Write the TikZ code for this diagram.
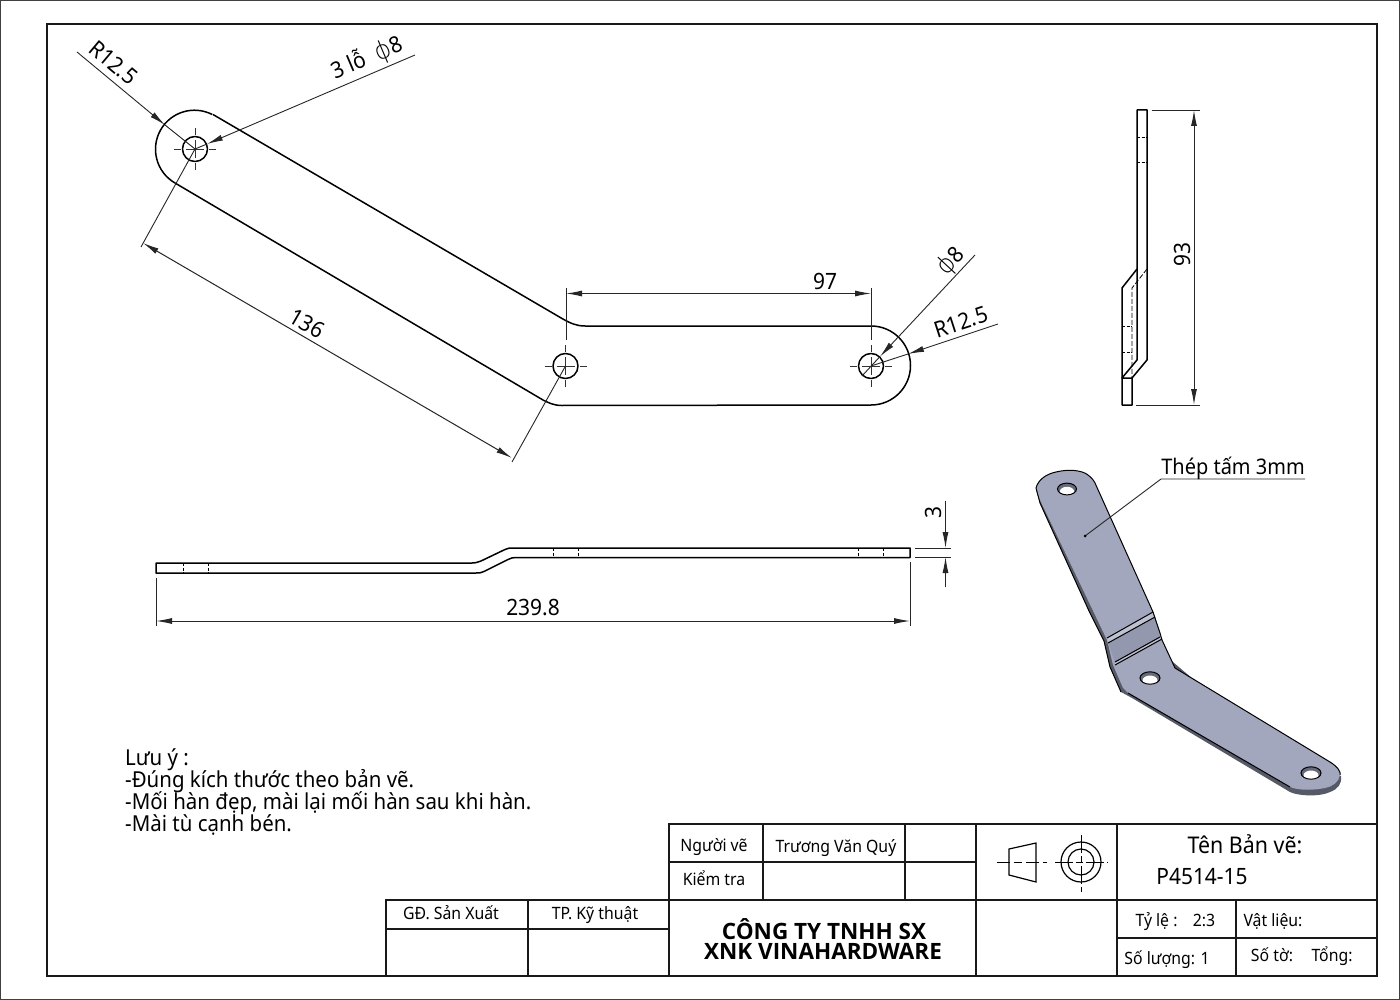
\documentclass[tikz,border=0pt]{standalone}
\usepackage{fontspec}
\setmainfont[FakeStretch=0.93]{Noto Sans}
\newfontfamily\boldfam{Open Sans}
\newfontfamily\phifam{DejaVu Sans ExtraLight}
\usetikzlibrary{arrows.meta}
\definecolor{face}{HTML}{A2A7BD}
\definecolor{band}{HTML}{9498AE}
\definecolor{side}{HTML}{565966}
\definecolor{holedark}{HTML}{666977}
\tikzset{
  thick outline/.style={line width=1.5pt,black,line join=round},
  thin line/.style={line width=0.9pt,black!85},
  frame line/.style={line width=2.4pt,black!90},
  cell line/.style={line width=1.7pt,black!90},
  arrow dim/.style={line width=0.9pt,black!85,-{Latex[length=16pt,width=6pt]}},
  both dim/.style={line width=1pt,black!85,{Latex[length=16pt,width=6pt]}-{Latex[length=16pt,width=6pt]}},
  hidden cut/.style={line width=0.7pt,black,dash pattern=on 3pt off 1.5pt},
  lbl/.style={inner sep=0pt,font=\fontsize{22.5}{26}\selectfont},
  cell/.style={inner sep=0pt,font=\fontsize{17}{20}\selectfont},
  note/.style={inner sep=0pt,anchor=base west,font=\fontsize{22}{26}\selectfont},
  firm/.style={inner sep=0pt,font=\fontsize{22.5}{24}\selectfont\boldfam\bfseries},
  iso hole/.style={line width=1pt,black}
}
\newcommand{\centermark}[1]{%
  \draw[line width=0.7pt,black!80] ([xshift=-9pt]#1) -- ([xshift=9pt]#1) ([yshift=-9pt]#1) -- ([yshift=9pt]#1)
    ([xshift=-21pt]#1) -- ([xshift=-14pt]#1) ([xshift=14pt]#1) -- ([xshift=21pt]#1)
    ([yshift=-21pt]#1) -- ([yshift=-14pt]#1) ([yshift=14pt]#1) -- ([yshift=21pt]#1);
  \draw[thick outline] (#1) circle[radius=12.5];}
\newcommand{\isohole}[3]{%
  \begin{scope}
    \clip (#1,#2) ellipse[x radius=#3,y radius=0.62*#3];
    \fill[holedark] (#1,#2) ellipse[x radius=#3,y radius=0.62*#3];
    \fill[white] (#1,#2+2.5) ellipse[x radius=0.75*#3,y radius=0.5*#3];
  \end{scope}
  \draw[iso hole] (#1,#2) ellipse[x radius=#3,y radius=0.62*#3];}
\newcommand{\phisym}{{\phifam\fontsize{25}{25}\selectfont ϕ}}
\begin{document}
\begin{tikzpicture}[x=1pt,y=-1pt]
\useasboundingbox (0,0) rectangle (1400,1000);
\fill[white] (0,0) rectangle (1400,1000);
\draw[line width=1.5pt,black!75] (0.5,0.5) rectangle (1399.5,999.5);
\draw[frame line] (47,24) rectangle (1377,976);

% --- named points
\coordinate (c1) at (195,149);
\coordinate (c2) at (565.5,366);
\coordinate (c3) at (871,366);

% --- plan view
\draw[thick outline] (213,114.5) -- (562,318.5) .. controls (570,323) and (576,326) .. (585,326)
  -- (871,326) arc[start angle=-90,end angle=90,radius=39.5]
  -- (562,405.5) .. controls (554,405.5) and (549,403) .. (543,400)
  -- (175,183) arc[start angle=120,end angle=297,radius=39];
\centermark{c1}\centermark{c2}\centermark{c3}

% R12.5 upper left
\coordinate (r1a) at (77,52); \coordinate (r1t) at (165,125);
\draw[arrow dim] (r1a) -- (r1t);
\draw[thin line] (r1t) -- (c1);
\node[lbl,rotate=-40] (r1l) at (113.5,62.5) {R12.5};
% 3 holes
\coordinate (h1a) at (415,55); \coordinate (h1t) at (207,144);
\draw[arrow dim] (h1a) -- (h1t);
\draw[thin line] (h1t) -- (c1);
\node[lbl,rotate=23.1] (h1l) at (367,58) {3 lỗ \ \phisym 8};
% 136
\coordinate (d1a) at (141,247); \coordinate (d1b) at (512,462);
\coordinate (d1c) at (143,243); \coordinate (d1d) at (512,458);
\draw[thin line] (c1) -- (d1a);
\draw[thin line] (c2) -- (d1b);
\draw[both dim] (d1c) -- (d1d);
\node[lbl,rotate=-30] (d1l) at (307,324) {136};
% 97
\coordinate (d2a) at (566,293.5); \coordinate (d2b) at (871,293.5);
\draw[thin line] (566,288) -- (566,340);
\draw[thin line] (871,288) -- (871,340);
\draw[both dim] (d2a) -- (d2b);
\node[lbl] (d2l) at (825,281) {97};
% phi 8
\coordinate (p1a) at (975,255); \coordinate (p1t) at (880,356.5); \coordinate (p1e) at (862,376);
\draw[arrow dim] (p1a) -- (p1t);
\draw[thin line] (p1t) -- (p1e);
\node[lbl,rotate=47] (p1l) at (951,261) {\phisym 8};
% R12.5 right
\coordinate (r2a) at (998,324); \coordinate (r2t) at (908,354);
\draw[arrow dim] (r2a) -- (r2t);
\draw[thin line] (r2t) -- (c3);
\node[lbl,rotate=18] (r2l) at (961,322) {R12.5};

% --- side view
\draw[thick outline] (1137,110) -- (1147,110) -- (1147,360) -- (1132,378) -- (1132,405) -- (1122,405) -- (1122,288) -- (1137,269) -- cycle;
\draw[thick outline] (1137,269) -- (1137,360) -- (1122,378) -- (1132,378);
\draw[line width=0.8pt,black,dash pattern=on 5pt off 2pt] (1147,269) -- (1132,288) -- (1132,378);
\foreach \yy in {137,162} \draw[hidden cut] (1137,\yy) -- (1147,\yy);
\foreach \yy in {326,352} \draw[hidden cut] (1122,\yy) -- (1132,\yy);
\draw[thin line] (1152,110) -- (1200,110);
\draw[thin line] (1136,405) -- (1200,405);
\coordinate (d3a) at (1194,110); \coordinate (d3b) at (1194,405);
\draw[both dim] (d3a) -- (d3b);
\node[lbl,rotate=90] (d3l) at (1182,255) {93};

% --- front view
\draw[thick outline] (156,563) -- (472,563) .. controls (476,563) and (478,562) .. (481,561)
  -- (505,549.5) .. controls (508,548) and (510,548) .. (513,548) -- (910,548) -- (910,557.5)
  -- (516,557.5) .. controls (513,557.5) and (511,558) .. (508,559.5)
  -- (484,571.5) .. controls (481,573) and (479,573) .. (476,573) -- (156,573) -- cycle;
\foreach \xx in {183,208} \draw[hidden cut] (\xx,563) -- (\xx,573);
\foreach \xx in {553,578,858,883} \draw[hidden cut] (\xx,548) -- (\xx,557.5);
\draw[thin line] (156,578) -- (156,626);
\draw[thin line] (910,562) -- (910,626);
\coordinate (d4a) at (156,621); \coordinate (d4b) at (910,621);
\draw[both dim] (d4a) -- (d4b);
\node[lbl] (d4l) at (533,608) {239.8};
% 3
\draw[thin line] (915,548) -- (951,548);
\draw[thin line] (915,557) -- (951,557);
\coordinate (d5a) at (945.5,501); \coordinate (d5t) at (945.5,548);
\coordinate (d5b) at (945.5,587); \coordinate (d5u) at (945.5,557);
\draw[arrow dim] (d5a) -- (d5t);
\draw[arrow dim] (d5b) -- (d5u);
\node[lbl,rotate=90] (d5l) at (933,513) {3};

% --- isometric view
\fill[side] (1036,490) -- (1040,503) -- (1089,611) -- (1104,641) -- (1110,667) -- (1121,692) -- (1132,698)
  -- (1290,792) .. controls (1298,796) and (1320,797) .. (1330,792) .. controls (1338,789) and (1342,784) .. (1341,776)
  -- (1300,770) -- (1100,600) -- cycle;
\fill[face] (1036,488) .. controls (1038,480) and (1046,474) .. (1056,472) .. controls (1068,469) and (1082,470) .. (1088,475)
  .. controls (1092,478) and (1094,481) .. (1095,483) -- (1153,612) -- (1160,633) -- (1162,640) -- (1175,668) -- (1330,762)
  .. controls (1338,767) and (1341,772) .. (1340,775) .. controls (1339,782) and (1332,787) .. (1325,788)
  .. controls (1315,790) and (1300,791) .. (1290,787) -- (1128,693) -- (1123,688) -- (1113,665) -- (1107,640) -- (1039,498) -- cycle;
\fill[band] (1108,643) -- (1155,617) -- (1160,637) -- (1115,662) -- cycle;
\fill[face!70!white] (1107,638) -- (1153,612) -- (1155,617) -- (1108,643) -- cycle;
\fill[face!70!white] (1115,662) -- (1160,637) -- (1162,639) -- (1115,665) -- cycle;
\draw[line width=1pt,black] (1036,488) .. controls (1038,480) and (1046,474) .. (1056,472) .. controls (1068,469) and (1082,470) .. (1088,475)
  .. controls (1092,478) and (1094,481) .. (1095,483) -- (1153,612) -- (1160,633) -- (1162,640) -- (1175,668) -- (1330,762)
  .. controls (1338,767) and (1341,772) .. (1340,775);
\draw[line width=1pt,black] (1107,638) -- (1153,612) (1108,643) -- (1155,617) (1115,662) -- (1160,637) (1115,665) -- (1162,639);
\draw[line width=1pt,black] (1036,488) -- (1040,503) -- (1089,611) -- (1104,641) -- (1110,667) -- (1121,692);
\draw[line width=1pt,black] (1128,693) -- (1290,787);
\isohole{1067}{489}{9.5}
\isohole{1150}{678}{10}
\isohole{1311}{773}{10}
\coordinate (ldot) at (1085,536);
\coordinate (lbend) at (1161,479); \coordinate (lend) at (1305,479);
\draw[thin line] (ldot) -- (lbend) -- (lend);
\fill (ldot) circle[radius=1.5];
\node[inner sep=0pt,font=\fontsize{21.5}{26}\selectfont] (ll) at (1233,468) {Thép tấm 3mm};

% --- notes
\node[note] (n1) at (125,765) {Lưu ý :};
\node[note] (n2) at (125,787) {-Đúng kích thước theo bản vẽ.};
\node[note] (n3) at (125,809) {-Mối hàn đẹp, mài lại mối hàn sau khi hàn.};
\node[note] (n4) at (125,831) {-Mài tù cạnh bén.};

% --- title block
\draw[cell line] (669,976) -- (669,824) -- (1377,824);
\draw[cell line] (386,976) -- (386,900) -- (1377,900);
\draw[cell line] (669,862) -- (976,862);
\draw[cell line] (763,824) -- (763,900);
\draw[cell line] (905,824) -- (905,900);
\draw[cell line] (976,824) -- (976,976);
\draw[cell line] (1117,824) -- (1117,976);
\draw[cell line] (528,900) -- (528,976);
\draw[cell line] (386,929) -- (669,929);
\draw[cell line] (1236,900) -- (1236,976);
\draw[cell line] (1117,938) -- (1377,938);
\node[cell] (t1) at (714,847) {Người vẽ};
\node[cell] (t2) at (836,848) {Trương Văn Quý};
\node[cell] (t3) at (714,878) {Kiểm tra};
\node[cell] (t4) at (451,913) {GĐ. Sản Xuất};
\node[cell] (t5) at (595,915) {TP. Kỹ thuật};
\node[inner sep=0pt,font=\fontsize{23}{26}\selectfont] (t6) at (1245,844) {Tên Bản vẽ:};
\node[lbl] (t7) at (1202,877) {P4514-15};
\node[cell] (t8) at (1156.5,922) {Tỷ lệ :};
\node[cell] (t9) at (1204,920) {2:3};
\node[cell] (t10) at (1273,921) {Vật liệu:};
\node[cell] (t11) at (1167,960) {Số lượng: 1};
\node[cell] (t12) at (1272,955) {Số tờ:};
\node[cell] (t13) at (1332,956) {Tổng:};
\node[firm] (t14) at (824,929) {CÔNG TY TNHH SX};
\node[firm] (t15) at (823,951) {XNK VINAHARDWARE};
% projection symbol
\draw[line width=1.2pt,black] (1009,849) -- (1036,843) -- (1036,882) -- (1009,875) -- cycle;
\draw[line width=1pt,black,dash pattern=on 13pt off 4pt on 8pt off 4pt] (997,862) -- (1047,862);
\coordinate (sy) at (1081,862);
\draw[line width=1.2pt,black] (sy) circle[radius=20] (sy) circle[radius=13];
\draw[line width=0.9pt,black,dash pattern=on 18pt off 3pt on 7pt off 3pt] (1055,862) -- (1108,862);
\draw[line width=0.9pt,black,dash pattern=on 18pt off 3pt on 7pt off 3pt] (1081,835) -- (1081,892);
\end{tikzpicture}
\end{document}
